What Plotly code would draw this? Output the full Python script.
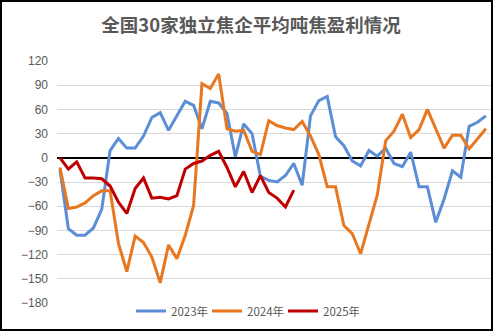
import plotly.graph_objects as go

# Weekly average profit per ton of coke, 30 independent coking plants (yuan/ton)
weeks = list(range(52))

profit_2023 = [-15, -88, -96, -96, -87, -64, 9, 24, 12, 12,
               27, 50, 56, 34, 52, 70, 65, 36, 70, 68,
               55, 1, 42, 30, -23, -28, -30, -22, -7, -34,
               52, 71, 76, 26, 15, -4, -10, 9, 2, 12,
               -7, -11, 7, -36, -36, -80, -51, -16, -24, 39,
               44, 52]

profit_2024 = [-12, -63, -61, -56, -47, -41, -41, -106, -141, -97,
               -105, -123, -155, -108, -125, -96, -59, 92, 86, 104,
               36, 33, 34, 8, 4, 46, 40, 37, 35, 45,
               27, 4, -36, -36, -84, -94, -119, -82, -46, 21,
               33, 54, 25, 35, 60, 36, 12, 28, 28, 11,
               23, 36]

profit_2025 = [0, -14, -5, -25, -25, -26, -35, -55, -69, -38,
               -25, -50, -49, -51, -47, -14, -7, -4, 3, 8,
               -12, -36, -17, -43, -22, -43, -50, -61, -40]

series_names = ["2023年", "2024年", "2025年"]
series_colors = ["#5B8ED6", "#E9771F", "#C00000"]
y_ticks = [-180, -150, -120, -90, -60, -30, 0, 30, 60, 90, 120]

title_text = "全国30家独立焦企平均吨焦盈利情况"

W, H = 494, 331
ML, MR, MT, MB = 57, 3, 61, 28

fig = go.Figure()
for name, vals, col in zip(series_names, [profit_2023, profit_2024, profit_2025], series_colors):
    fig.add_trace(go.Scatter(
        x=weeks[:len(vals)], y=vals, mode="lines", name=name,
        line=dict(color=col, width=3, shape="linear"),
    ))

plot_w = W - ML - MR
plot_h = H - MT - MB
step_px = 8.35
x_lo = -3 / step_px
x_hi = x_lo + plot_w / step_px


def px_x(px):
    return (px - ML) / plot_w


def px_y(py):
    return (H - MB - py) / plot_h


fig.update_layout(
    width=W, height=H,
    margin=dict(l=ML, r=MR, t=MT, b=MB, pad=0),
    paper_bgcolor="white", plot_bgcolor="white",
    title=dict(text=title_text, x=251 / W, xref="container", xanchor="center",
               y=1 - 26 / H, yanchor="middle",
               font=dict(family="Noto Sans CJK SC", size=18.5, color="#595959", weight="bold")),
    showlegend=True,
    legend=dict(orientation="h", x=px_x(245), xanchor="center", y=px_y(311), yanchor="middle",
                font=dict(family="Noto Sans CJK SC", size=11.5, color="#595959"),
                bgcolor="rgba(0,0,0,0)", itemwidth=30, entrywidth=31, entrywidthmode="pixels"),
    xaxis=dict(range=[x_lo, x_hi], showticklabels=False, showgrid=False,
               zeroline=False, showline=False, ticks=""),
    yaxis=dict(range=[-180, 120], tickvals=y_ticks, showgrid=True,
               gridcolor="#D9D9D9", gridwidth=1,
               zeroline=True, zerolinecolor="#000000", zerolinewidth=2,
               showline=False, ticks="", ticklabelstandoff=8,
               tickfont=dict(family="Liberation Sans", size=12, color="#595959")),
)

# chart-area frame
fig.add_shape(type="rect", xref="paper", yref="paper",
              x0=px_x(1), x1=px_x(W - 2), y0=px_y(H - 1), y1=px_y(1),
              line=dict(color="#000000", width=2), fillcolor="rgba(0,0,0,0)", layer="above")

fig.write_html("out.html")
